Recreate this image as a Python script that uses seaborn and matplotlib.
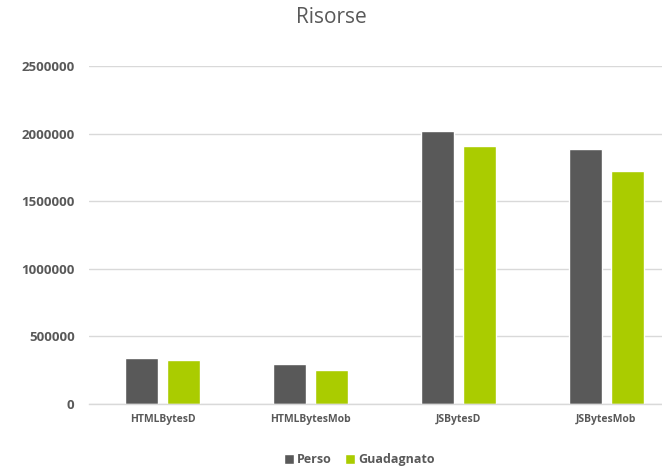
import matplotlib.pyplot as plt
import seaborn as sns
import pandas as pd

# dati
categorie = ["HTMLBytesD", "HTMLBytesMob", "JSBytesD", "JSBytesMob"]
perso = [341000, 298000, 2017000, 1886000]
guadagnato = [328000, 252000, 1911000, 1721000]
serie = ["Perso", "Guadagnato"]
colori = ["#595959", "#AACC00"]

df = pd.DataFrame({
    "categoria": categorie * 2,
    "valore": perso + guadagnato,
    "serie": [serie[0]] * 4 + [serie[1]] * 4,
})

sns.set_style("white")
plt.rcParams['font.family'] = ['Open Sans', 'DejaVu Sans']

fig = plt.figure(figsize=(6.62, 4.68), dpi=100)
# l'area del grafico continua oltre il bordo destro (immagine tagliata)
ax = fig.add_axes([0.1337, 0.137, 0.894, 0.722])

sns.barplot(data=df, x="categoria", y="valore", hue="serie", palette=colori,
            width=0.568, gap=0.214, saturation=1, ax=ax, legend=True)

ax.set_xlim(-0.5, 3.5)
ax.set_ylim(0, 2500000)
ax.set_yticks(range(0, 2500001, 500000))
ax.set_yticklabels([str(v) for v in range(0, 2500001, 500000)])
ax.yaxis.grid(True, color="#D9D9D9", linewidth=1)
ax.set_axisbelow(True)
for s in ["top", "right", "left"]:
    ax.spines[s].set_visible(False)
ax.spines["bottom"].set_color("#D9D9D9")
ax.spines["bottom"].set_linewidth(1)
ax.tick_params(axis="both", length=0, colors="#595959")
ax.tick_params(axis="y", pad=10, labelsize=9.5)
ax.tick_params(axis="x", pad=7, labelsize=7.5)
for lab in ax.get_xticklabels() + ax.get_yticklabels():
    lab.set_fontweight("bold")
ax.set_xlabel("")
ax.set_ylabel("")

fig.suptitle("Risorse", x=0.5, y=0.985, fontsize=15, color="#595959")

ax.get_legend().remove()
h, l = ax.get_legend_handles_labels()
leg = fig.legend(h, l, loc="center", bbox_to_anchor=(0.543, 0.018), ncol=2,
                 frameon=False, handlelength=0.8, handleheight=0.8,
                 handletextpad=0.25, columnspacing=1.1,
                 prop={"weight": "bold", "size": 9})
for t in leg.get_texts():
    t.set_color("#595959")

fig.savefig("out.png", dpi=100)
